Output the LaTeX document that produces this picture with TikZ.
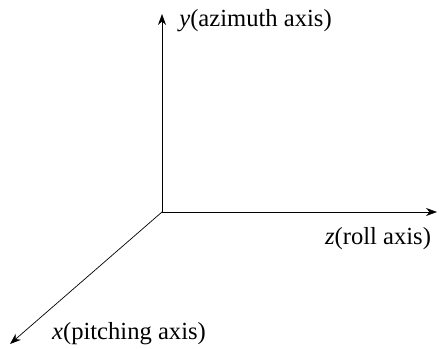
\documentclass[tikz,border=0pt]{standalone}
\usepackage{fontspec}
\setmainfont{Liberation Serif}
\usepackage{tikz}
\usetikzlibrary{positioning, arrows.meta, calc}

\begin{document}
\begin{tikzpicture}[
    axis/.style={thin, -{Stealth[length=2.2mm, width=1.6mm]}},
    axislabel/.style={font=\fontsize{14}{17}\selectfont, inner sep=0pt}
]

\useasboundingbox (0,0) rectangle (8.78,6.96);

% Origin and axis ends
\coordinate (O)    at (3.24,2.72);
\coordinate (ytip) at (3.24,6.68);
\coordinate (ztip) at (8.74,2.72);
\coordinate (xtip) at (0.20,0.08);

% Axes
\draw[axis] (O) -- (ytip);
\draw[axis] (O) -- (ztip);
\draw[axis] (O) -- (xtip);

% Labels
\node[axislabel, anchor=base west] (ylabel) at (3.58,6.42) {\textit{y}(azimuth axis)};
\node[axislabel, anchor=base] (zlabel) at (7.56,2.06) {\textit{z}(roll axis)};
\node[axislabel, anchor=base] (xlabel) at (2.58,0.16) {\textit{x}(pitching axis)};

\end{tikzpicture}
\end{document}
